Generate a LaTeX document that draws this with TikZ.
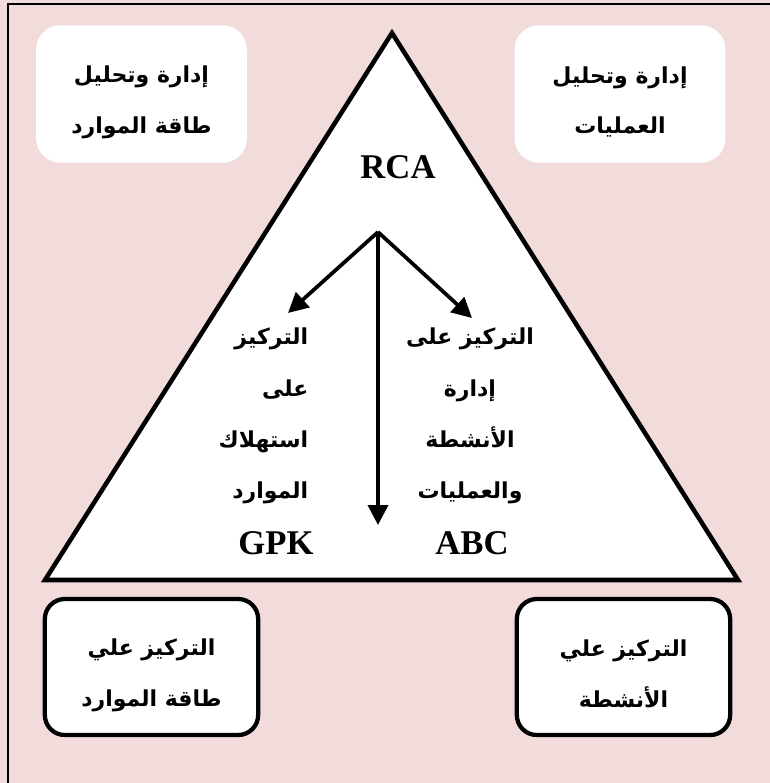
\documentclass[tikz,border=0pt]{standalone}
\usepackage{fontspec}
\setmainfont{Liberation Serif}
\newfontfamily\arabicfont[Script=Arabic]{DejaVu Sans}
\usetikzlibrary{arrows.meta}
\TeXXeTstate=1
\definecolor{bgpink}{HTML}{F2DCDB}
\newcommand{\ar}[1]{\beginR#1\endR}
\newcommand{\arsize}{\arabicfont\bfseries\fontsize{16.5}{38}\selectfont}

\begin{document}
\begin{tikzpicture}[x=0.75pt,y=-0.75pt]
        \tikzset{softbox/.style = {fill=white, rounded corners=18pt, minimum width=158pt, minimum height=103pt}}
        \tikzset{hardbox/.style = {fill=white, draw, line width=3.2pt, rounded corners=15pt, minimum width=160pt, minimum height=102pt}}
        \tikzset{boxtext/.style = {align=center, font=\arsize}}
        \tikzset{column/.style = {font=\arabicfont\bfseries\fontsize{16.5}{38.5}\selectfont}}
        \tikzset{latin/.style = {font=\bfseries\fontsize{26}{30}\selectfont}}
        \tikzset{branch/.style = {line width=2.8pt, -{Triangle[length=15pt,width=15pt]}}}
        \useasboundingbox (0,0) rectangle (770,783);
        \fill[bgpink] (0,0) rectangle (770,783);
        \draw[line width=1.6pt] (8,790) -- (8,4) -- (780,4);
        % corner boxes
        \node[softbox] (mgmtres) at (141.5,94) {};
        \node[boxtext] (mgmtrestext) at ([yshift=-6pt]mgmtres.center) {\ar{إدارة وتحليل}\\ \ar{طاقة الموارد}};
        \node[softbox] (mgmtops) at (620,94) {};
        \node[boxtext] (mgmtopstext) at ([yshift=-6pt]mgmtops.center) {\ar{إدارة وتحليل}\\ \ar{العمليات}};
        \node[hardbox] (focusres) at (151.5,667) {};
        \node[boxtext] (focusrestext) at ([yshift=-6pt]focusres.center) {\ar{التركيز علي}\\ \ar{طاقة الموارد}};
        \node[hardbox] (focusact) at (623.5,667) {};
        \node[boxtext] (focusacttext) at ([yshift=-5pt]focusact.center) {\ar{التركيز علي}\\ \ar{الأنشطة}};
        % triangle
        \draw[line width=3.4pt, line join=miter, fill=white] (392,33) -- (738,580) -- (45,580) -- cycle;
        \node[latin] (rca) at (398,167) {RCA};
        \node[column, align=right, anchor=east] (gpktext) at (313,416) {\ar{التركيز}\\ \ar{على}\\ \ar{استهلاك}\\ \ar{الموارد}};
        \node[latin] (gpk) at (276,543) {GPK};
        \node[column, align=center] (abctext) at (470,416) {\ar{التركيز على}\\ \ar{إدارة}\\ \ar{الأنشطة}\\ \ar{والعمليات}};
        \node[latin] (abc) at (472,543) {ABC};
        \coordinate (src) at (378,232);
        \coordinate (toleft) at (288,313);
        \coordinate (toright) at (472,318);
        \coordinate (todown) at (378,525);
        \draw[branch] (src) -- (toleft);
        \draw[branch] (src) -- (toright);
        \draw[branch] (src) -- (todown);
\end{tikzpicture}
\end{document}
